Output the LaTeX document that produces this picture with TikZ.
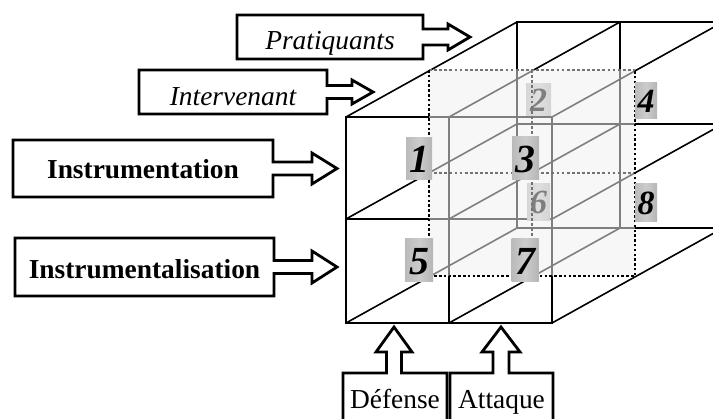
\documentclass[tikz,border=0pt]{standalone}
\usepackage{fontspec}
\setmainfont{Liberation Serif}
\usetikzlibrary{calc}
\newcommand\rcallout[5]{%
  \draw[boxline] (#1.north west) -- (#1.north east) -- ($(#1.east)+(0,-#4)$) -- ($(#1.east)+(#2,-#4)$)
    -- ($(#1.east)+(#2,-#5)$) -- ($(#1.east)+(#2+#3,0)$) -- ($(#1.east)+(#2,#5)$) -- ($(#1.east)+(#2,#4)$)
    -- ($(#1.east)+(0,#4)$) -- (#1.south east) -- (#1.south west) -- cycle;}
\newcommand\ucallout[6]{%
  \draw[boxline] (#1.north west) -- ($(#1.north west)+(#2-#5,0)$) -- ($(#1.north west)+(#2-#5,-#3)$)
    -- ($(#1.north west)+(#2-#6,-#3)$) -- ($(#1.north west)+(#2,-#3-#4)$) -- ($(#1.north west)+(#2+#6,-#3)$)
    -- ($(#1.north west)+(#2+#5,-#3)$) -- ($(#1.north west)+(#2+#5,0)$) -- (#1.north east) -- (#1.south east)
    -- (#1.south west) -- cycle;}
\begin{document}
\begin{tikzpicture}[x=1bp,y=-1bp,line join=miter,
  face/.style={draw=black,line width=2.8bp},
  depthline/.style={draw=black,line width=1.6bp},
  blackdots/.style={draw=black,line width=2.8bp,dash pattern=on 2.5bp off 2.3bp},
  graydots/.style={draw=black!55,line width=2.8bp,dash pattern=on 2.8bp off 2.3bp},
  veil/.style={fill=black!6,fill opacity=0.53},
  numbox/.style={rectangle,inner sep=0pt,outer sep=0pt,left color=black!27,right color=black!29,middle color=black!20,text depth=0pt},
  bignum/.style={numbox,minimum width=26bp,minimum height=42bp,text height=29bp,font=\fontsize{40}{40}\selectfont\bfseries\itshape},
  smallnum/.style={numbox,minimum width=23bp,minimum height=36bp,text height=24bp,font=\fontsize{34}{34}\selectfont\bfseries\itshape},
  textbox/.style={rectangle,inner sep=0pt,outer sep=0pt,text depth=0pt,font=\fontsize{27.5}{30}\selectfont},
  boxline/.style={draw=black,line width=2.8bp}]
\useasboundingbox (0,0) rectangle (713,418);
\clip (0,0) rectangle (713,418);
% grid points of front and back faces
\foreach \i/\x in {0/346,1/449,2/552}{
  \foreach \j/\y in {0/117,1/219,2/323}{
    \coordinate (f\i\j) at (\x,\y);
    \coordinate (b\i\j) at (\x+171,\y-95);
  }}
% middle slice
\foreach \i/\x in {0/429,1/532,2/635}{
  \foreach \j/\y in {0/70,1/173,2/276}{
    \coordinate (s\i\j) at (\x,\y);
  }}
% back face
\draw[face] (b00) rectangle (b22);
\draw[face] (b10) -- (b12);
\draw[face] (b01) -- (b21);
% depth edges
\foreach \i in {0,1,2}{\foreach \j in {0,1,2}{\draw[depthline] (f\i\j) -- (b\i\j);}}
% front face
\draw[face] (f00) rectangle (f22);
\draw[face] (f10) -- (f12);
\draw[face] (f01) -- (f21);
% faded labels
\node[smallnum,minimum width=25bp,minimum height=32bp] (l2) at (538.5,99) {2};
\node[smallnum,minimum height=37bp] (l6) at (538.5,201.5) {6};
% translucent slice
\path[veil] (s00) rectangle (s22);
\draw[graydots] (s00) -- (s20);
\draw[graydots] (s10) -- (s12);
\draw[graydots] (s01) -- (s21);
\draw[blackdots] (s00) -- (s02) -- (s22) -- (s20);
% labels
\node[bignum] (l1) at (419,158) {1};
\node[bignum,minimum width=27bp,minimum height=43bp] (l3) at (525.5,157.5) {3};
\node[bignum,minimum width=28bp,minimum height=43bp] (l5) at (419,259.5) {5};
\node[bignum,minimum width=27bp,minimum height=43bp] (l7) at (525,259.5) {7};
\node[smallnum,minimum width=22bp] (l4) at (646,100) {4};
\node[smallnum,minimum width=22bp,minimum height=38bp] (l8) at (646,202) {8};
% side boxes
\node[textbox,minimum width=186bp,minimum height=44bp,text height=24bp,font=\fontsize{27.5}{30}\selectfont\itshape] (prat) at (330,37) {Pratiquants};
\rcallout{prat}{25}{22}{8}{13}
\node[textbox,minimum width=188bp,minimum height=44bp,text height=26bp,font=\fontsize{27.5}{30}\selectfont\itshape] (interv) at (233,92) {Intervenant};
\rcallout{interv}{25}{21}{6.5}{12}
\node[textbox,minimum width=260bp,minimum height=57bp,text height=19bp,font=\fontsize{27.5}{30}\selectfont\bfseries] (instr) at (143,168.5) {Instrumentation};
\rcallout{instr}{39}{25}{6.5}{15.5}
\node[textbox,minimum width=259bp,minimum height=58bp,text height=22bp,font=\fontsize{27.5}{30}\selectfont\bfseries] (instl) at (144.5,267) {Instrumentalisation};
\rcallout{instl}{38}{25}{6.5}{16}
\node[textbox,minimum width=104bp,minimum height=56bp,text height=14bp] (def) at (395,401) {Défense};
\ucallout{def}{51}{21}{25}{7.5}{18}
\node[textbox,minimum width=103bp,minimum height=56bp,text height=14bp] (att) at (501.5,401) {Attaque};
\ucallout{att}{51}{21}{25}{8}{19}
\end{tikzpicture}
\end{document}
